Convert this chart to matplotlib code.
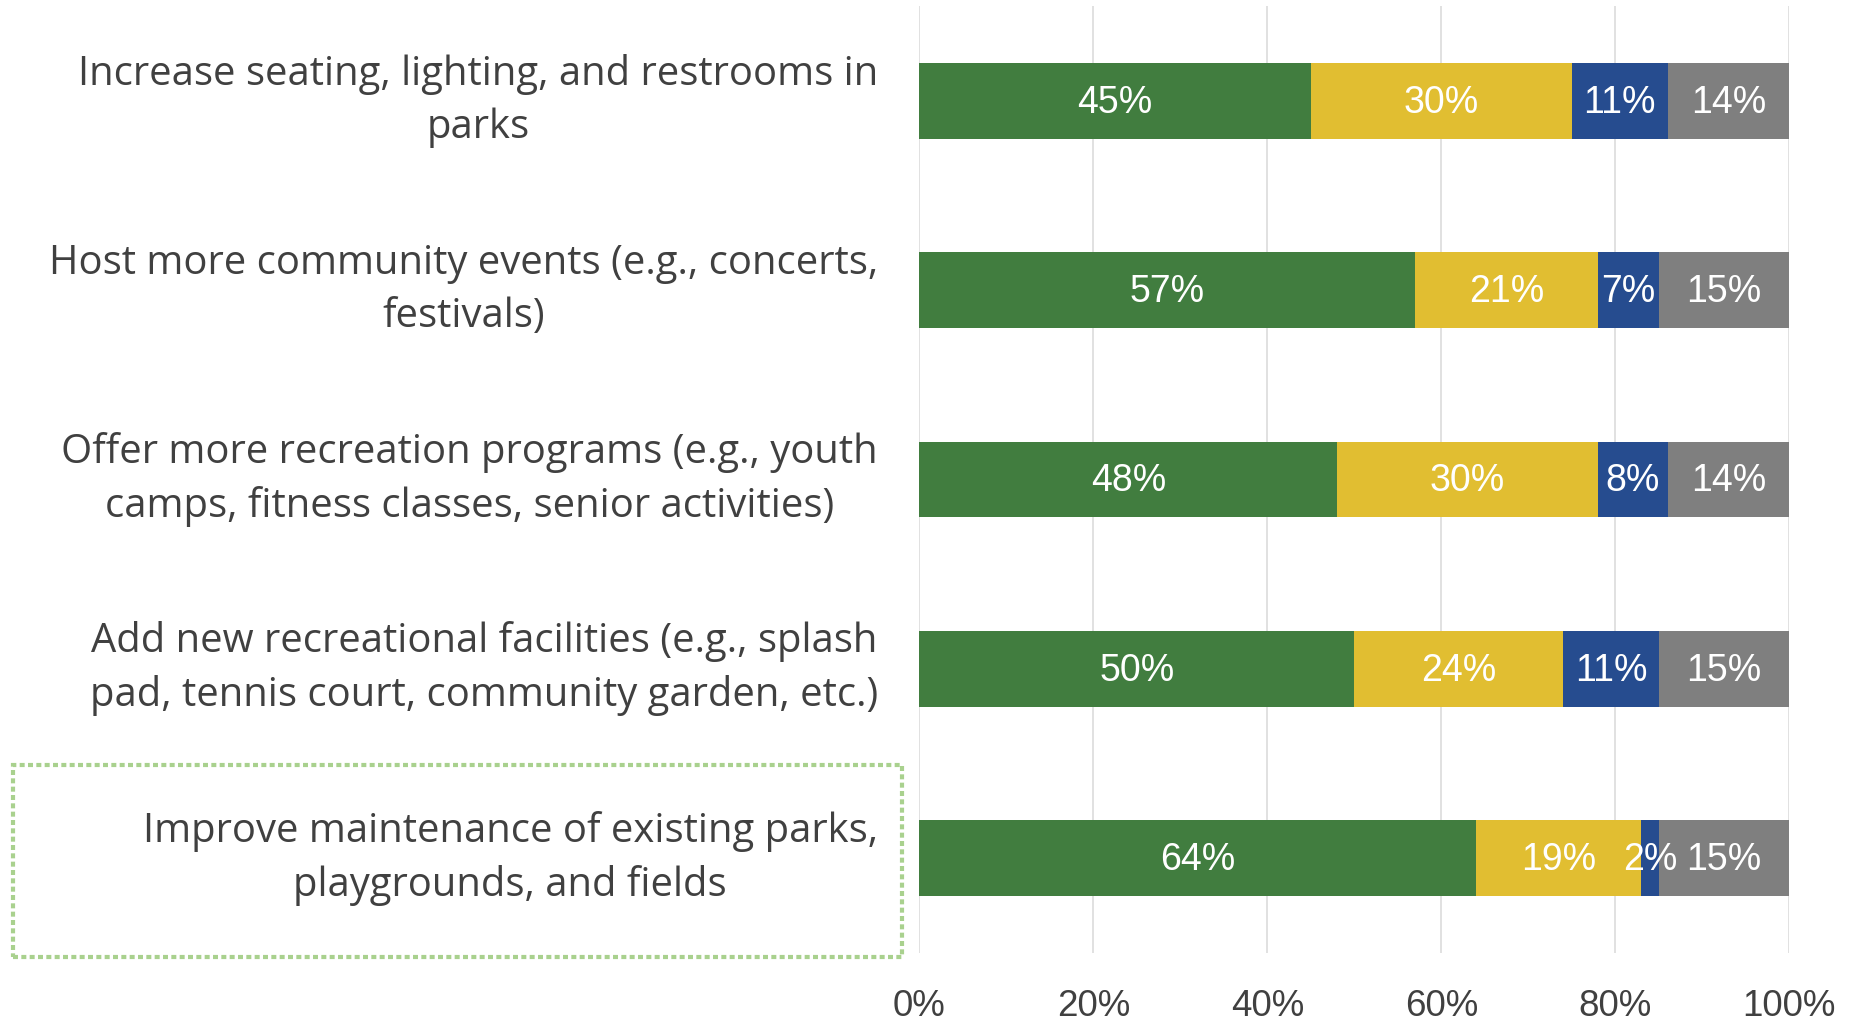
import matplotlib
matplotlib.use("Agg")
import matplotlib.pyplot as plt
from matplotlib.patches import Rectangle

# Survey priorities, shares of responses per option (percent)
categories = [
    "Increase seating, lighting, and restrooms in\nparks",
    "Host more community events (e.g., concerts,\nfestivals)",
    "Offer more recreation programs (e.g., youth\ncamps, fitness classes, senior activities)",
    "Add new recreational facilities (e.g., splash\npad, tennis court, community garden, etc.)",
    "Improve maintenance of existing parks,\nplaygrounds, and fields",
]
high = [45, 57, 48, 50, 64]
medium = [30, 21, 30, 24, 19]
low = [11, 7, 8, 11, 2]
other = [14, 15, 14, 15, 15]
xticks = [0, 20, 40, 60, 80, 100]
xtick_labels = ["0%", "20%", "40%", "60%", "80%", "100%"]

series = [high, medium, low, other]
colors = ["#417D3F", "#E1BE31", "#264C8F", "#7F7F7F"]

W, H = 1858, 1023
fig = plt.figure(figsize=(W / 100, H / 100), dpi=100)
ax = fig.add_axes([919.5 / W, 1 - 953 / H, (1789.3 - 919.5) / W, (953 - 6) / H])

ypos = list(range(len(categories)))
left = [0] * len(categories)
for vals, col in zip(series, colors):
    ax.barh(ypos, vals, left=left, height=0.4, color=col, zorder=3)
    for y, v, l in zip(ypos, vals, left):
        ax.text(l + v / 2, y + 0.01, f"{v}%", ha="center", va="center", color="white",
                fontsize=27, family="Liberation Sans", zorder=4)
    left = [a + b for a, b in zip(left, vals)]

ax.set_xlim(0, 100)
ax.set_ylim(len(categories) - 0.5, -0.5)
ax.set_xticks(xticks)
ax.set_xticklabels(xtick_labels, fontsize=26.5, family="Liberation Sans", color="#404040")
ax.set_yticks(ypos)
ax.set_yticklabels(categories, fontsize=28.8, family="Open Sans", color="#404040",
                   multialignment="center", linespacing=1.42, va="center")
ax.tick_params(axis="x", length=0, pad=26)
ax.tick_params(axis="y", length=0, pad=30)
ax.grid(axis="x", color="#D9D9D9", linewidth=1.1, zorder=0)
for s in ax.spines.values():
    s.set_visible(False)

# Dotted highlight around the last option
box = Rectangle((13 / W, 1 - 957 / H), (902 - 13) / W, (957 - 765) / H,
                transform=fig.transFigure, fill=False, edgecolor="#A9D18E",
                linewidth=3, linestyle=(0, (1.2, 0.8)))
fig.patches.append(box)

fig.savefig("out.png", dpi=100)
